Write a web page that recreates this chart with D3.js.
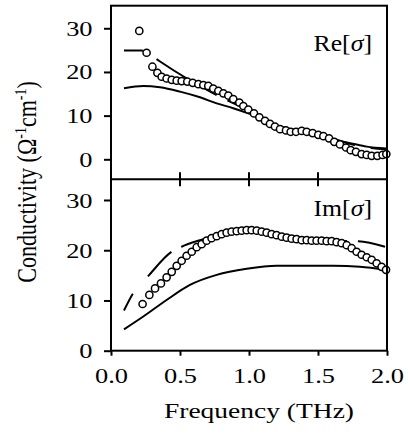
<!DOCTYPE html>
<html><head><meta charset="utf-8">
<script src="https://cdn.jsdelivr.net/npm/d3@7"></script>
<style>
html,body{margin:0;padding:0;background:#fff;}
svg{display:block;}
</style></head>
<body>
<script>
// ---- data ----
const xTicks = [0.0, 0.5, 1.0, 1.5, 2.0];
const yTicks = [0, 10, 20, 30];

// Re[sigma] measured points
const reFreq = [0.205,0.258,0.300,0.336,0.367,0.403,0.440,0.476,0.512,0.553,0.592,0.633,0.669,0.705,0.741,0.778,0.814,0.850,0.886,0.930,0.959,0.995,1.036,1.075,1.116,1.152,1.188,1.225,1.268,1.302,1.341,1.382,1.418,1.461,1.502,1.539,1.580,1.618,1.659,1.703,1.737,1.775,1.816,1.853,1.889,1.930,1.968,1.995];
const reVal  = [29.4,24.4,21.2,19.8,18.9,18.5,18.2,18.0,17.9,17.8,17.5,17.2,17.0,16.8,16.2,15.7,15.1,14.6,13.8,13.0,12.2,11.4,10.5,9.6,8.8,8.1,7.5,6.9,6.6,6.3,6.3,6.5,6.3,6.0,5.6,5.3,4.8,4.0,3.4,2.7,2.1,1.7,1.2,1.0,0.8,0.8,1.0,1.2];
// Re model curves
const reSolidFreq = [0.094,0.234,0.355,0.5,0.645,0.766,0.886,0.995,1.08,1.176,1.273,1.37,1.491,1.611,1.732,1.853,1.993];
const reSolidVal  = [16.25,16.8,16.5,15.5,14.2,12.8,11.7,10.5,9.4,7.85,6.9,6.1,5.3,4.4,3.7,2.9,2.5];
const reDashFreq = [0.094,0.22,0.29,0.35,0.79,1.0,1.2,1.4,1.6,1.8,2.0];
const reDashVal  = [24.9,24.9,23.8,22.5,14.3,11.2,7.8,6.3,4.8,3.0,2.3];

// Im[sigma] measured points
const imFreq = [0.229,0.278,0.319,0.362,0.403,0.440,0.476,0.512,0.548,0.585,0.621,0.657,0.693,0.729,0.766,0.802,0.838,0.874,0.911,0.947,0.983,1.019,1.056,1.092,1.128,1.164,1.200,1.237,1.273,1.309,1.345,1.382,1.418,1.454,1.490,1.527,1.563,1.599,1.635,1.671,1.708,1.744,1.780,1.816,1.853,1.889,1.925,1.961,1.993];
const imVal  = [9.3,11.1,12.4,13.4,14.6,15.7,16.9,17.9,18.9,19.7,20.6,21.2,21.9,22.4,22.8,23.2,23.5,23.7,23.8,23.9,24.0,24.0,23.9,23.7,23.5,23.2,23.0,22.7,22.5,22.3,22.2,22.0,22.0,21.9,21.9,21.9,21.8,21.8,21.6,21.4,21.0,20.4,19.7,19.1,18.6,18.1,17.4,16.7,16.1];
// Im model curves
const imSolidFreq = [0.094,0.234,0.403,0.572,0.766,0.983,1.2,1.418,1.611,1.804,1.993];
const imSolidVal  = [4.25,6.8,10.1,13.1,15.1,16.3,16.9,16.9,16.9,16.7,16.1];
const imDashFreq = [0.094,0.157,0.271,0.44,0.512,0.645,0.8,1.0,1.2,1.4,1.6,1.792,1.986];
const imDashVal  = [8.0,11.3,14.9,19.7,20.7,22.0,23.2,24.0,23.0,22.1,21.9,21.8,20.7];

// ---- layout ----
const W = 408, H = 439;
const xL = 111, xR = 387;
const upTop = 5.7, sep = 179.3, lowBot = 350.7;
const FONT = "'Liberation Serif','Times New Roman',Times,serif";
const SX = 1.2; // horizontal glyph stretch seen in the reference

const svg = d3.select("body").append("svg").attr("width", W).attr("height", H)
  .attr("font-family", FONT);

const x = d3.scaleLinear().domain([0, 2]).range([xL, xR]);
const yUp = d3.scaleLinear().domain([-4.58, 35.17]).range([sep, upTop]);
const yLo = d3.scaleLinear().domain([0, 34.12]).range([lowBot, sep]);

const zip = (a, b) => a.map((v, i) => [v, b[i]]);

function panel(y, pts, solid, dash, dashArr) {
  const line = d3.line().x(d => x(d[0])).y(d => y(d[1])).curve(d3.curveMonotoneX);
  svg.append("path").attr("d", line(solid)).attr("fill", "none")
    .attr("stroke", "#000").attr("stroke-width", 2);
  svg.append("path").attr("d", line(dash)).attr("fill", "none")
    .attr("stroke", "#000").attr("stroke-width", 2).attr("stroke-dasharray", dashArr);
  svg.append("g").selectAll("circle").data(pts).join("circle")
    .attr("cx", d => x(d[0])).attr("cy", d => y(d[1])).attr("r", 3.6)
    .attr("fill", "#fff").attr("stroke", "#000").attr("stroke-width", 1.5);
}

panel(yUp, zip(reFreq, reVal), zip(reSolidFreq, reSolidVal), zip(reDashFreq, reDashVal), "19,16,70,12");
panel(yLo, zip(imFreq, imVal), zip(imSolidFreq, imSolidVal), zip(imDashFreq, imDashVal), "19,23,34,11,34,11,34,11,34,11,34,11,34,11,34,11,36,6");

// Y axes
function yAxis(y) {
  const g = svg.append("g").attr("transform", `translate(${xL},0)`)
    .call(d3.axisLeft(y).tickValues(yTicks).tickSize(7).tickPadding(9).tickFormat(d3.format("d")));
  g.attr("font-family", FONT).attr("font-size", 22);
  g.select(".domain").remove();
  g.selectAll(".tick line").attr("stroke", "#000").attr("stroke-width", 2);
  g.selectAll(".tick text").attr("fill", "#000").attr("x", -18.5 / SX)
    .attr("transform", `scale(${SX},1)`);
}
yAxis(yUp);
yAxis(yLo);

// X axis (bottom)
const gx = svg.append("g").attr("transform", `translate(0,${lowBot})`)
  .call(d3.axisBottom(x).tickValues(xTicks).tickSize(5).tickPadding(12).tickFormat(d3.format(".1f")));
gx.attr("font-family", FONT).attr("font-size", 22);
gx.select(".domain").remove();
gx.selectAll(".tick line").attr("stroke", "#000").attr("stroke-width", 2);
gx.selectAll(".tick text").attr("fill", "#000").attr("transform", `scale(${SX},1)`);

// separator ticks (crossing)
svg.append("g").selectAll("line").data(xTicks.slice(1, -1)).join("line")
  .attr("x1", d => x(d)).attr("x2", d => x(d))
  .attr("y1", sep - 7).attr("y2", sep + 7)
  .attr("stroke", "#000").attr("stroke-width", 2);

// frame
svg.append("rect").attr("x", xL).attr("y", upTop).attr("width", xR - xL).attr("height", lowBot - upTop)
  .attr("fill", "none").attr("stroke", "#000").attr("stroke-width", 2);
svg.append("line").attr("x1", xL).attr("x2", xR).attr("y1", sep).attr("y2", sep)
  .attr("stroke", "#000").attr("stroke-width", 2);

// panel labels
function plabel(txt, yy) {
  const t = svg.append("text").attr("transform", `translate(372,${yy}) scale(1.12,1)`)
    .attr("text-anchor", "end").attr("font-size", 23).attr("fill", "#000");
  t.append("tspan").text(txt + "[");
  t.append("tspan").attr("font-style", "italic").text("σ");
  t.append("tspan").text("]");
}
plabel("Re", 51);
plabel("Im", 216);

// axis titles
svg.append("text").attr("transform", `translate(${x(1) + 10},418) scale(1.25,1)`)
  .attr("text-anchor", "middle").attr("font-size", 22).attr("fill", "#000").text("Frequency (THz)");

const yl = svg.append("text").attr("transform", `translate(36,182) scale(${SX},1) rotate(-90)`)
  .attr("text-anchor", "middle").attr("font-size", 22).attr("fill", "#000");
yl.append("tspan").text("Conductivity (Ω");
yl.append("tspan").attr("font-size", 14).attr("dy", -8).text("-1");
yl.append("tspan").attr("dy", 8).text("cm");
yl.append("tspan").attr("font-size", 14).attr("dy", -8).text("-1");
yl.append("tspan").attr("dy", 8).text(")");
</script>
</body></html>
